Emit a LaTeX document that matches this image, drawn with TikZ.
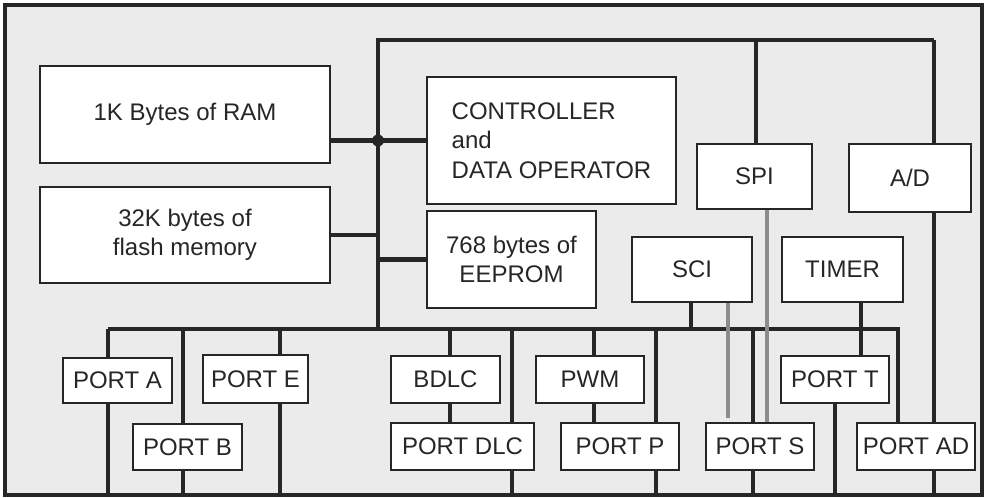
\documentclass[tikz,border=0pt]{standalone}
\usepackage{fontspec}
\setmainfont{Liberation Sans}
\pgfdeclarelayer{bg}
\pgfdeclarelayer{wires}
\pgfsetlayers{bg,wires,main}
\begin{document}
\begin{tikzpicture}[x=1pt,y=-1pt,
  blk/.style={draw=black!85, line width=2.2pt, fill=white, inner sep=0pt, outer sep=0pt,
    font=\fontsize{24}{29.5}\selectfont, text=black!85, align=center},
  bus/.style={line width=4.5pt, draw=black!85},
  sig/.style={line width=3.5pt, draw=black!45}]
\useasboundingbox (0,0) rectangle (986,498);

\begin{pgfonlayer}{bg}
  \node[draw=black!85, line width=4pt, fill=gray!16, inner sep=0pt, outer sep=0pt,
    minimum width=977pt, minimum height=490pt] (chip) at (493.5,250) {};
\end{pgfonlayer}

% blocks
\node[blk, minimum width=290pt, minimum height=97pt] (ram) at (185,114.5) {1K Bytes of RAM};
\node[blk, minimum width=290pt, minimum height=96pt] (flash) at (185,235) {32K bytes of\\flash memory};
\node[blk, minimum width=249pt, minimum height=127pt, align=left] (ctrl) at (551.5,140.5) {CONTROLLER\\and\\DATA OPERATOR};
\node[blk, minimum width=169pt, minimum height=97pt] (eeprom) at (511.5,259.5) {768 bytes of\\EEPROM};
\node[blk, minimum width=115pt, minimum height=65pt] (spi) at (754.5,176.5) {SPI};
\node[blk, minimum width=122pt, minimum height=68pt] (ad) at (910,178) {A/D};
\node[blk, minimum width=120pt, minimum height=65pt] (sci) at (692,269.5) {SCI};
\node[blk, minimum width=121pt, minimum height=65pt] (timer) at (842.5,269.5) {TIMER};
\node[blk, minimum width=109pt, minimum height=45pt] (porta) at (117.5,380.5) {PORT A};
\node[blk, minimum width=109pt, minimum height=46pt] (portb) at (187.5,447) {PORT B};
\node[blk, minimum width=105pt, minimum height=48pt] (porte) at (255.5,379) {PORT E};
\node[blk, minimum width=109pt, minimum height=47pt] (bdlc) at (445.5,379.5) {BDLC};
\node[blk, minimum width=143pt, minimum height=47pt] (portdlc) at (462.5,446.5) {PORT DLC};
\node[blk, minimum width=108pt, minimum height=47pt] (pwm) at (590,379.5) {PWM};
\node[blk, minimum width=118pt, minimum height=47pt] (portp) at (620,446.5) {PORT P};
\node[blk, minimum width=108pt, minimum height=47pt] (ports) at (760,446.5) {PORT S};
\node[blk, minimum width=108pt, minimum height=47pt] (portt) at (835,379.5) {PORT T};
\node[blk, minimum width=118pt, minimum height=47pt] (portad) at (916,446.5) {PORT AD};

% bus coordinates
\coordinate (tl) at (378,40);
\coordinate (tr) at (934,40);
\coordinate (bl) at (378,329);
\coordinate (lbL) at (108,329);
\coordinate (lbR) at (898,329);
\coordinate (vB) at (183,329);
\coordinate (vE) at (280,329);
\coordinate (vD) at (450,329);
\coordinate (vD2) at (512,329);
\coordinate (vP) at (594,329);
\coordinate (vP2) at (656,329);
\coordinate (vS) at (753,329);
\coordinate (tmx) at (861,302);
\coordinate (spix) at (767,209);
\coordinate (scix) at (728,302);
\coordinate (scie) at (728,418);

\begin{pgfonlayer}{wires}
  \draw[bus] (tr) -- (tl) -- (bl);
  \draw[bus] (tr) -- (tr |- chip.south);
  \draw[bus] (spi.north -| 756,0) -- (tl -| 756,0);
  \draw[bus] (ram.east |- ctrl.west) -- (ctrl.west);
  \fill[black!85] (tl |- ctrl.west) circle (6pt);
  \draw[bus] (flash.east) -- (flash.east -| tl);
  \draw[bus] (eeprom.west) -- (eeprom.west -| tl);
  \draw[bus] (lbL) -- (lbR) -- (lbR |- portad.north);
  \draw[bus] (lbL) -- (lbL |- chip.south);
  \draw[bus] (vB) -- (vB |- chip.south);
  \draw[bus] (vE) -- (vE |- chip.south);
  \draw[bus] (vD) -- (vD |- portdlc.north);
  \draw[bus] (vD2) -- (vD2 |- chip.south);
  \draw[bus] (vP) -- (vP |- portp.north);
  \draw[bus] (vP2) -- (vP2 |- chip.south);
  \draw[bus] (vS) -- (vS |- chip.south);
  \draw[bus] (sci.south -| 691,0) -- (bl -| 691,0);
  \draw[bus] (tmx) -- (tmx |- portt.north);
  \draw[bus] (portt.south) -- (portt.south |- chip.south);
  \draw[sig] (spix) -- (spix |- ports.north);
  \draw[sig] (scix) -- (scie);
\end{pgfonlayer}
\end{tikzpicture}
\end{document}
